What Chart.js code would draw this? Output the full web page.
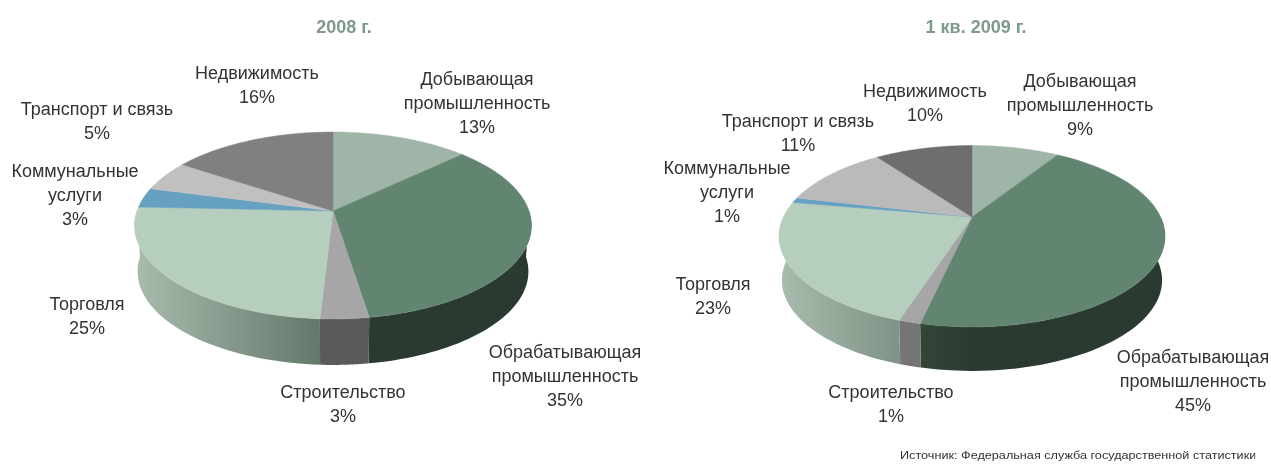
<!DOCTYPE html>
<html>
<head>
<meta charset="utf-8">
<script src="https://cdn.jsdelivr.net/npm/chart.js@4"></script>
<style>
html, body { margin: 0; padding: 0; background: #fff; width: 1271px; height: 464px; overflow: hidden; }
.box { position: absolute; top: 0; height: 464px; }
.box canvas { filter: blur(0.4px); }
#source { position: absolute; left: 900px; top: 447px; width: 309px; height: 16px; overflow: hidden; white-space: nowrap;
  font: 11px "Liberation Sans", sans-serif; color: #333; line-height: 16px; filter: blur(0.3px);
  transform: scaleX(1.15); transform-origin: left top; }
</style>
</head>
<body>
<div class="box" style="left:0;width:688px"><canvas id="pie2008"></canvas></div>
<div class="box" style="left:655px;width:642px"><canvas id="pie2009"></canvas></div>
<div id="source">Источник: Федеральная служба государственной статистики</div>
<script>
const categories = [
    ['Добывающая', 'промышленность'],
    ['Обрабатывающая', 'промышленность'],
    ['Строительство'],
    ['Торговля'],
    ['Коммунальные', 'услуги'],
    ['Транспорт и связь'],
    ['Недвижимость']
];
// slice sizes, the labels show them rounded
const values2008 = [13, 34.5, 3.4, 24.8, 3.4, 5.2, 15.7];
const values2009 = [9, 44.5, 1.49, 22.8, 0.9, 11.3, 10.01];
const title2008 = '2008 г.';
const title2009 = '1 кв. 2009 г.';

const colors2008 = ['#9fb5a7', '#618570', '#a6a6a6', '#b6cebd', '#66a1c1', '#c0c0c0', '#808080'];
const colors2009 = ['#9fb5a7', '#618570', '#a6a6a6', '#b6cebd', '#66a1c1', '#bababa', '#6e6e6e'];

// side wall colours over the pie width (left, middle, right)
const sides2008 = [null, ['#3e5848', '#2b3a30', '#2b3a30'], ['#5a5a5a', '#5a5a5a', '#5a5a5a'], ['#a9bdaf', '#5f7366', '#5f7366'], null, null, null];
const sides2009 = [null, ['#46624f', '#2b3a30', '#2b3a30'], ['#757575', '#757575', '#757575'], ['#a9bdaf', '#667a6d', '#667a6d'], null, null, null];

// label anchors in canvas pixels: centre x and y of the first line
const labelPos2008 = [[477, 80], [565, 353], [343, 393], [87, 305], [75, 172], [97, 110], [257, 74]];
const labelPos2009 = [[425, 82], [538, 358], [236, 393], [58, 285], [72, 169], [143, 122], [270, 92]];

// perspective of the disc: cx, apex y, a, c, d, wall depth
const geom2008 = { cx: 333, apexY: 211, a: 58.5, c: -0.155, d: 196, depth: 46, shrink: 0.985 };
const geom2009 = { cx: 317, apexY: 217, a: 40.6, c: -0.212, d: 188.6, depth: 44, shrink: 0.985 };

function project(g, angle) {
    const u = Math.cos(angle), v = Math.sin(angle);
    const w = 1 + g.c * v;
    return { x: g.cx + g.d * u / w, y: (g.a * v + g.apexY) / w };
}

const tiltPie = {
    id: 'tiltPie',
    beforeDatasetDraw(chart) {
        const o = chart.options.plugins.tiltPie;
        const g = o.geom;
        const ctx = chart.ctx;
        const arcs = chart.getDatasetMeta(0).data;
        const rx = g.d / Math.sqrt(1 - g.c * g.c);
        ctx.save();

        // side walls, front half only
        arcs.forEach((arc, i) => {
            const stops = o.sides[i];
            if (!stops) return;
            const from = Math.max(arc.startAngle, 0);
            const to = Math.min(arc.endAngle, Math.PI);
            if (to <= from) return;
            const grad = ctx.createLinearGradient(g.cx - rx, 0, g.cx + rx, 0);
            grad.addColorStop(0, stops[0]);
            grad.addColorStop(0.5, stops[1]);
            grad.addColorStop(1, stops[2]);
            const n = 48;
            ctx.beginPath();
            for (let k = 0; k <= n; k++) {
                const p = project(g, from + (to - from) * k / n);
                if (k === 0) ctx.moveTo(p.x, p.y); else ctx.lineTo(p.x, p.y);
            }
            for (let k = n; k >= 0; k--) {
                const p = project(g, from + (to - from) * k / n);
                ctx.lineTo(g.cx + (p.x - g.cx) * g.shrink, p.y + g.depth);
            }
            ctx.closePath();
            ctx.fillStyle = grad;
            ctx.fill();
        });

        // top face
        arcs.forEach((arc) => {
            const n = 64;
            ctx.beginPath();
            ctx.moveTo(g.cx, g.apexY);
            for (let k = 0; k <= n; k++) {
                const p = project(g, arc.startAngle + (arc.endAngle - arc.startAngle) * k / n);
                ctx.lineTo(p.x, p.y);
            }
            ctx.closePath();
            ctx.fillStyle = arc.options.backgroundColor;
            ctx.strokeStyle = arc.options.backgroundColor;
            ctx.lineWidth = 0.5;
            ctx.fill();
            ctx.stroke();
        });
        ctx.restore();
        return false;
    },
    afterDraw(chart) {
        const o = chart.options.plugins.tiltPie;
        const ctx = chart.ctx;
        const vals = chart.data.datasets[0].data;
        ctx.save();
        ctx.font = '18px "Liberation Sans", sans-serif';
        ctx.fillStyle = '#333';
        ctx.textAlign = 'center';
        ctx.textBaseline = 'middle';
        chart.data.labels.forEach((lab, i) => {
            const [x, y] = o.labelPos[i];
            lab.concat(Math.round(vals[i]) + '%').forEach((line, k) => ctx.fillText(line, x, y + k * 24));
        });
        ctx.restore();
    }
};

function makePie(id, title, values, colors, sides, labelPos, geom) {
    return new Chart(document.getElementById(id), {
        type: 'pie',
        data: {
            labels: categories,
            datasets: [{ data: values, backgroundColor: colors, borderWidth: 0 }]
        },
        options: {
            responsive: true,
            maintainAspectRatio: false,
            animation: false,
            plugins: {
                legend: { display: false },
                tooltip: { enabled: false },
                title: {
                    display: true,
                    text: title,
                    color: '#7f9a8b',
                    padding: { top: 17, bottom: 10 },
                    font: { family: '"Liberation Sans", sans-serif', size: 18, weight: 'bold' }
                },
                tiltPie: { geom, sides, labelPos }
            }
        },
        plugins: [tiltPie]
    });
}

makePie('pie2008', title2008, values2008, colors2008, sides2008, labelPos2008, geom2008);
makePie('pie2009', title2009, values2009, colors2009, sides2009, labelPos2009, geom2009);
</script>
</body>
</html>
